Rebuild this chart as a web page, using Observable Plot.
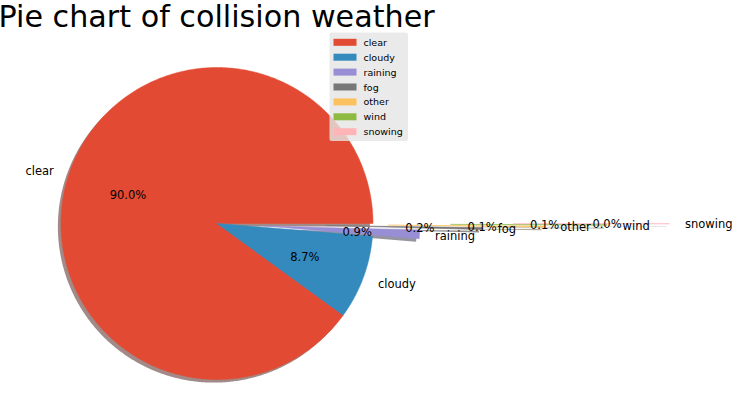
<!DOCTYPE html>
<html><head><meta charset="utf-8">
<script src="https://cdn.jsdelivr.net/npm/d3@7"></script>
<script src="https://cdn.jsdelivr.net/npm/@observablehq/plot@0.6"></script>
<style>body{margin:0;background:#fff} svg{display:block}</style>
</head><body><div id="chart"></div>
<script>
const categories = ["clear","cloudy","raining","fog","other","wind","snowing"];
const shares = [90.0, 8.7, 0.9, 0.2, 0.1, 0.08, 0.02];
const explode = [0, 0, 0.3, 0.7, 1.1, 1.5, 1.9];
const colors = ["#E24A33","#348ABD","#988ED5","#777777","#FBC15E","#8EBA42","#FFB5B8"];
const title = "Pie chart of collision weather";

const W = 735, H = 419, CX = 216.5, CY = 223, R = 156;
const FONT = "DejaVu Sans, sans-serif";
const total = d3.sum(shares);
const dx = px => (px - CX) / R, dy = py => (CY - py) / R;

let start = 0;
const wedges = [], pct = [], namesL = [], namesR = [];
categories.forEach((name, i) => {
  const frac = shares[i] / total;
  const t1 = start, t2 = start + frac * 360; start = t2;
  const mid = (t1 + t2) / 2 * Math.PI / 180;
  const ox = explode[i] * Math.cos(mid), oy = explode[i] * Math.sin(mid);
  const n = Math.max(2, Math.ceil((t2 - t1) / 0.5));
  const pts = [{name, x: ox, y: oy}];
  for (let k = 0; k <= n; k++) {
    const a = (t1 + (t2 - t1) * k / n) * Math.PI / 180;
    pts.push({name, x: ox + Math.cos(a), y: oy + Math.sin(a)});
  }
  pts.push({name, x: ox, y: oy});
  wedges.push(pts);
  pct.push({x: ox + 0.6 * Math.cos(mid), y: oy + 0.6 * Math.sin(mid), text: (frac * 100).toFixed(1) + "%"});
  const lab = {x: ox + 1.1 * Math.cos(mid), y: oy + 1.1 * Math.sin(mid), text: name};
  (lab.x > 0 ? namesR : namesL).push(lab);
});

const shade = c => { const r = d3.rgb(c); return d3.rgb(r.r * 0.3, r.g * 0.3, r.b * 0.3).formatHex(); };

const shadowMarks = wedges.map((pts, i) =>
  Plot.line(pts, {x: d => d.x - 0.02, y: d => d.y - 0.02, fill: shade(colors[i]), fillOpacity: 0.5, stroke: "none"}));
const wedgeMarks = wedges.map(pts =>
  Plot.line(pts, {x: "x", y: "y", fill: "name", stroke: "name", strokeWidth: 0.5, strokeLinejoin: "round"}));

// legend
const legRows = categories.map((name, i) => ({name, py: 42.3 + 14.9 * i}));

const chart = Plot.plot({
  width: W, height: H, margin: 0,
  style: {fontFamily: FONT, background: "#fff"},
  x: {domain: [dx(0), dx(W)], range: [0, W], axis: null},
  y: {domain: [dy(H), dy(0)], range: [H, 0], axis: null},
  color: {domain: categories, range: colors},
  marks: [
    ...shadowMarks,
    ...wedgeMarks,
    Plot.text(pct, {x: "x", y: "y", text: "text", textAnchor: "middle", lineAnchor: "middle", dy: 1, fontSize: 11.5, fill: "#000"}),
    Plot.text(namesR, {x: "x", y: "y", text: "text", textAnchor: "start", lineAnchor: "middle", dy: 1, fontSize: 11.5, fill: "#000"}),
    Plot.text(namesL, {x: "x", y: "y", text: "text", textAnchor: "end", lineAnchor: "middle", dy: 1, fontSize: 11.5, fill: "#000"}),
    Plot.rect([0], {x1: dx(329.5), x2: dx(408), y1: dy(32.5), y2: dy(141), fill: "#E5E5E5", fillOpacity: 0.8, rx: 2}),
    Plot.rect(legRows, {x1: dx(333.5), x2: dx(356.5), y1: d => dy(d.py - 3.5), y2: d => dy(d.py + 3.5), fill: "name"}),
    Plot.text(legRows, {x: dx(363), y: d => dy(d.py), text: "name", textAnchor: "start", lineAnchor: "middle", fontSize: 9.5, fill: "#000"}),
    Plot.text([title], {frameAnchor: "top-left", dx: -2, dy: 5, lineAnchor: "top", fontSize: 30.2, fill: "#000", text: d => d})
  ]
});
document.getElementById("chart").appendChild(chart);
</script>
</body></html>
